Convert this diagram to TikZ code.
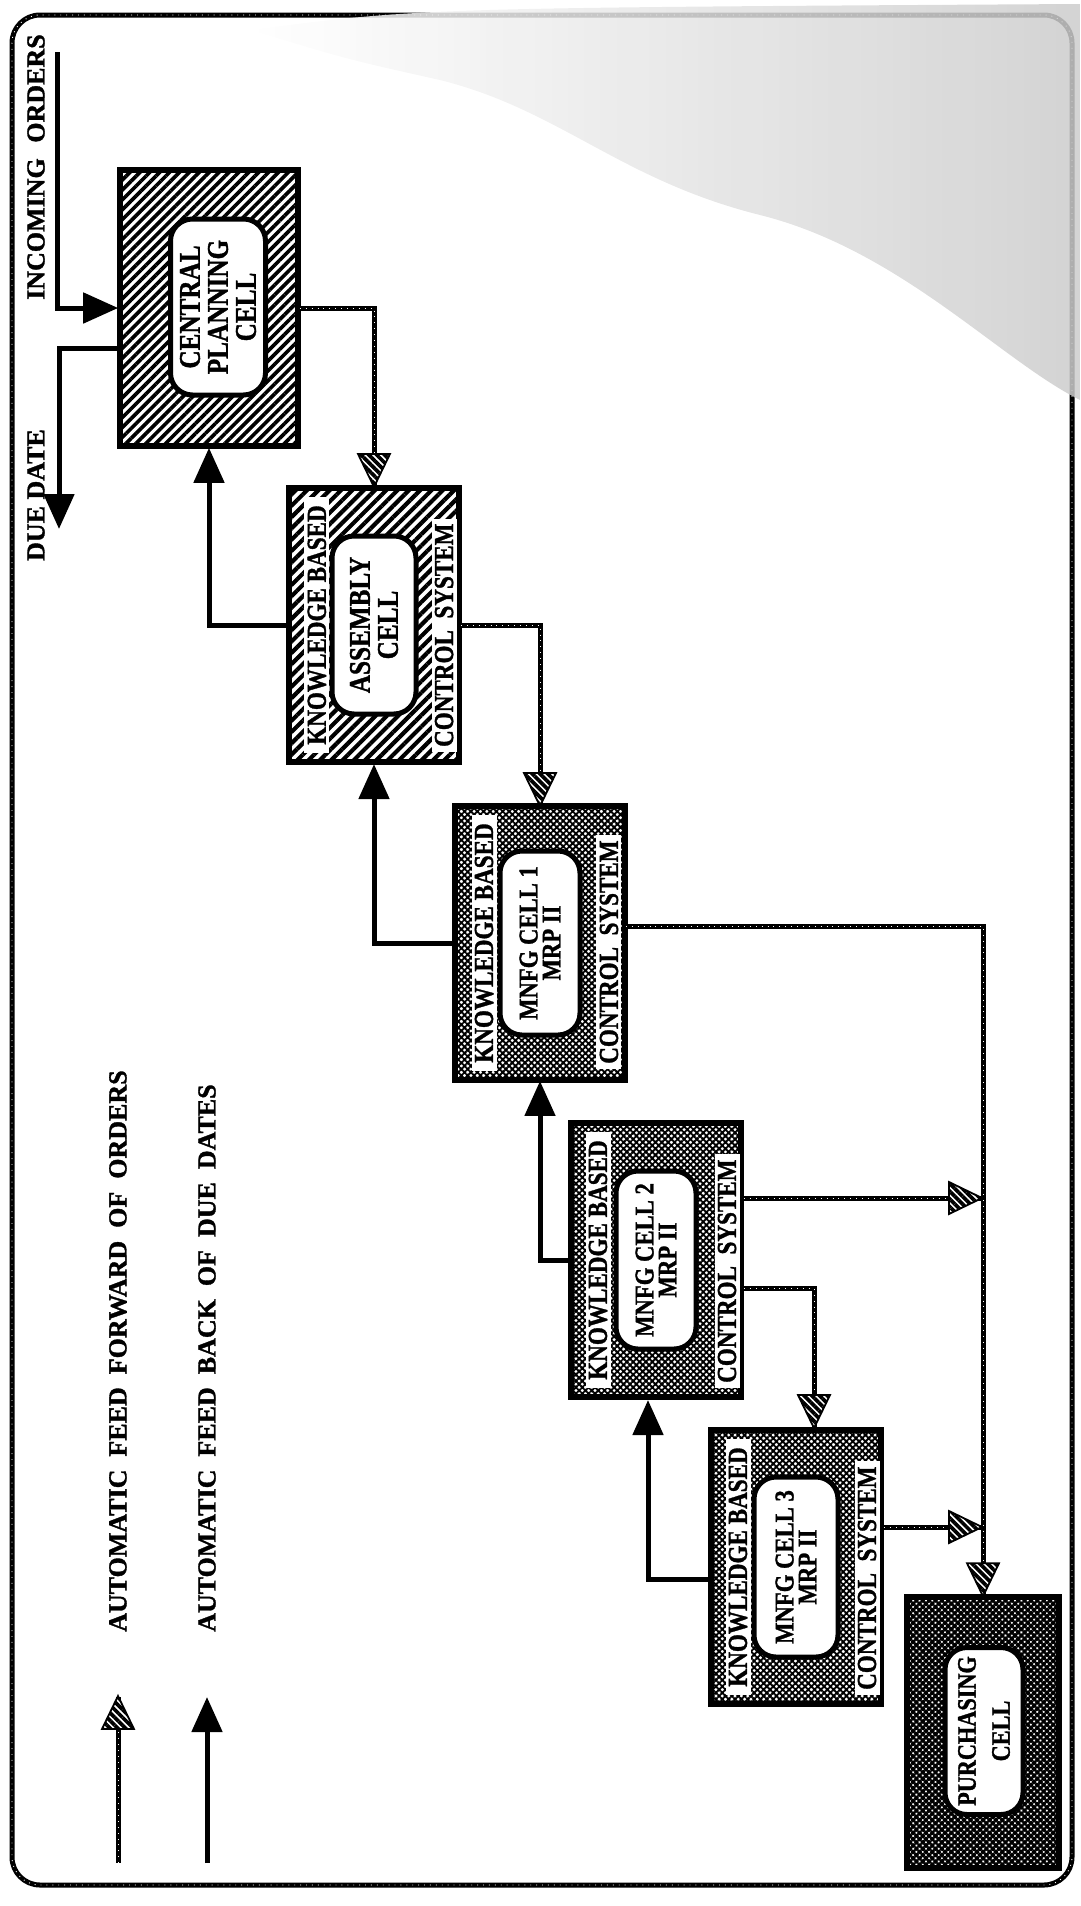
\documentclass[tikz,border=0pt]{standalone}
\usepackage{fontspec}
\usepackage{graphicx}
\setmainfont{Liberation Serif}[BoldFeatures={FakeBold=1.3}]
\usetikzlibrary{arrows.meta,patterns.meta,decorations.markings}

% narrow capitals used inside the cells
\newcommand{\cnd}[1]{\scalebox{0.84}[1]{#1}}

\tikzset{
  % braided line used for the frame and for the feed-forward connectors
  rope/.style={draw=black, line width=5pt,
    postaction={draw=white, line width=0.9pt, dash pattern=on 0.9pt off 5pt}},
  fwdhead/.style={postaction={decorate, decoration={markings,
    mark=at position 1 with {
      \fill[white] (1,0) -- (-32,16) -- (-32,-16) -- cycle;
      \fill[pattern={Lines[angle=-45,distance=5.5pt,line width=3.7pt]}] (1,0) -- (-32,16) -- (-32,-16) -- cycle;
      \draw[black, line width=1.8pt, line join=miter] (1,0) -- (-32,16) -- (-32,-16) -- cycle;}}}},
  fwd/.style={rope, fwdhead},
  back/.style={draw=black, line width=5pt, -{Triangle[length=35pt,width=30pt]}},
  outerbox/.style={draw=black, line width=6pt, preaction={fill=white}, inner sep=0pt,
    minimum width=170pt, minimum height=274pt},
  innerbox/.style={draw=black, line width=5pt, fill=white, rounded corners=22pt,
    rotate=90, align=center, inner sep=0pt},
  strip/.style={fill=white, rotate=90, inner xsep=5pt, inner ysep=0pt, minimum height=25pt,
    font=\bfseries\fontsize{27.5}{28}\selectfont},
  bigtext/.style={font=\bfseries\fontsize{30}{28}\selectfont},
  mrptext/.style={font=\bfseries\fontsize{27}{23}\selectfont},
  label/.style={rotate=90, inner sep=0pt, font=\bfseries\fontsize{26}{28}\selectfont},
  stripes/.style={pattern={Lines[angle=45,distance=#1,line width=0.52*#1]}},
  checks/.style={pattern={Hatch[angle=45,distance=4.5pt,line width=#1]}}
}

% one knowledge based control cell: name, centre, fill, inner options, text
\newcommand{\controlcell}[5]{%
  \node[outerbox, #3] (#1) at (#2) {};
  \node[innerbox, #4] (#1in) at (#1.center) {#5};
  \node[strip, minimum width=256pt] (#1kb) at ([xshift=30pt]#1.west) {\cnd{KNOWLEDGE BASED}};
  \node[strip, anchor=west] (#1cs) at ([xshift=-17pt,yshift=12pt]#1.south east) {\cnd{CONTROL\hspace{0.5em}SYSTEM}};
}

\begin{document}
\begin{tikzpicture}[x=1pt,y=-1pt]
\useasboundingbox (0,0) rectangle (1080,1906);

% frame
\draw[rope, rounded corners=28pt] (12,15) rectangle (1072,1885);

% faint grey shadow in the upper right
\shade[left color=white, right color=black!20, opacity=0.85] (250,30) .. controls (420,8) .. (1080,4)
  -- (1080,400) .. controls (1000,360) and (900,250) .. (760,215)
  .. controls (620,180) and (560,110) .. (440,80) .. controls (350,60) .. (250,30) -- cycle;

% central planning cell
\node[outerbox, stripes=7pt, minimum width=178pt, minimum height=276pt] (cen) at (209,308) {};
\node[innerbox, bigtext, minimum width=176pt, minimum height=95pt] (cenin) at (218,307)
  {\cnd{CENTRAL}\\\cnd{PLANNING}\\\cnd{CELL}};

% cells
\controlcell{asm}{374,625}{stripes=8pt}{bigtext, minimum width=178pt, minimum height=84pt}{\cnd{ASSEMBLY}\\\cnd{CELL}}
\controlcell{ca}{540,943}{checks=1.9pt}{mrptext, minimum width=184pt, minimum height=80pt}{\cnd{MNFG CELL 1}\\\cnd{MRP II}}
\controlcell{cb}{656,1260}{checks=1.9pt}{mrptext, minimum width=178pt, minimum height=80pt}{\cnd{MNFG CELL 2}\\\cnd{MRP II}}
\controlcell{cc}{796,1567}{checks=1.9pt}{mrptext, minimum width=180pt, minimum height=84pt}{\cnd{MNFG CELL 3}\\\cnd{MRP II}}

% purchasing cell
\node[outerbox, checks=2.6pt, minimum width=152pt, minimum height=271pt] (pur) at (983,1732) {};
\node[innerbox, font=\bfseries\fontsize{26.5}{34}\selectfont, minimum width=167pt, minimum height=78pt] (purin) at (984,1731)
  {\cnd{PURCHASING}\\\cnd{CELL}};

% incoming orders and due date
\coordinate (inc) at (57,52);
\coordinate (due) at (59,529);
\draw[back] (inc) |- (cen.west);
\draw[back] ([yshift=-40pt]cen.west) -| (due);
\node[label, anchor=west] (inctext) at (36,300) {INCOMING\hspace{0.6em}ORDERS};
\node[label, anchor=east] (duetext) at (36,429) {DUE DATE};

% feed forward of orders
\draw[fwd] (cen.east) -| (asm.north);
\draw[fwd] (asm.east) -| (ca.north);
\draw[fwd] ([yshift=17pt]ca.east) -| (pur.north);
\draw[fwd] ([yshift=62pt]cb.east) -- ([yshift=62pt,xshift=-2pt]cb.east -| pur.north);
\draw[fwd] ([yshift=-28pt]cb.east) -| ([xshift=18pt]cc.north);
\draw[fwd] ([yshift=40pt]cc.east) -- ([yshift=40pt,xshift=-2pt]cc.east -| pur.north);

% feed back of due dates
\draw[back] (asm.west) -| (cen.south);
\draw[back] (ca.west) -| (asm.south);
\draw[back] (cb.west) -| (ca.south);
\draw[back] ([yshift=-12pt]cc.west) -| ([xshift=-8pt]cb.south);

% legend
\coordinate (lfa) at (118,1863);
\coordinate (lfb) at (118,1697);
\coordinate (lba) at (207,1863);
\coordinate (lbb) at (207,1697);
\draw[fwd] (lfa) -- (lfb);
\draw[back] (lba) -- (lbb);
\node[label, anchor=west] (lftext) at (118,1632) {AUTOMATIC\hspace{0.5em}FEED\hspace{0.5em}FORWARD\hspace{0.5em}OF\hspace{0.5em}ORDERS};
\node[label, anchor=west] (lbtext) at (207,1632) {AUTOMATIC\hspace{0.5em}FEED\hspace{0.5em}BACK\hspace{0.5em}OF\hspace{0.5em}DUE\hspace{0.5em}DATES};
\end{tikzpicture}
\end{document}
